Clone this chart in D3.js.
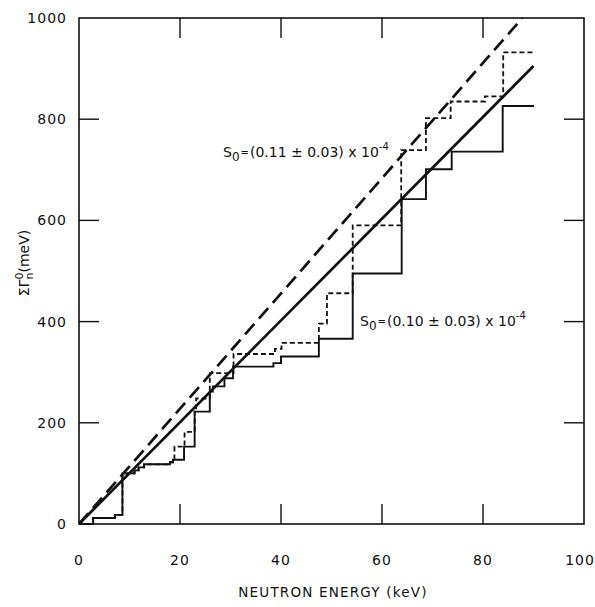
<!DOCTYPE html>
<html>
<head>
<meta charset="utf-8">
<script src="https://cdn.jsdelivr.net/npm/d3@7"></script>
<style>
  body { margin: 0; background: #fff; }
  svg { font-family: "DejaVu Sans", sans-serif; }
</style>
</head>
<body>
<svg class="chart"></svg>
<script>
// tick labels
var xTicks = [0, 20, 40, 60, 80, 100];
var yTicks = [0, 200, 400, 600, 800, 1000];

// solid staircase (S0 = 0.10)
var solidE = [0, 2.8, 7.1, 8.6, 11.0, 11.8, 12.9, 18.0, 18.6, 20.8, 22.9, 25.9, 26.5, 28.8, 30.5, 38.5, 40.0, 47.5, 54.2, 63.9, 68.7, 73.8, 83.9, 90.1];
var solidG = [0, 12, 18, 100, 106, 112, 118, 122, 127, 153, 222, 262, 272, 288, 311, 318, 331, 366, 495, 642, 701, 736, 826, 826];

// dashed staircase (S0 = 0.11)
var dashE = [0, 2.8, 7.1, 8.6, 11.0, 11.8, 12.9, 18.0, 18.6, 18.9, 20.9, 22.9, 23.2, 25.9, 30.6, 38.8, 40.1, 47.5, 49.1, 54.2, 63.8, 68.7, 73.6, 80.4, 84.0, 89.8];
var dashG = [0, 12, 18, 100, 106, 112, 118, 122, 127, 153, 182, 222, 248, 298, 336, 346, 358, 396, 456, 590, 739, 802, 835, 845, 932, 932];

// straight fits
var fitSolidE = [0, 90];
var fitSolidG = [0, 905];
var fitDashE = [0, 87.8];
var fitDashG = [0, 1000];

var width = 595, height = 607;
var margin = {top: 18, right: 11, bottom: 83, left: 79};

var svg = d3.select(".chart").attr("width", width).attr("height", height);

var x = d3.scaleLinear().domain([0, 100]).range([margin.left, width - margin.right]);
var y = d3.scaleLinear().domain([0, 1000]).range([height - margin.bottom, margin.top]);

var ink = "#111";

// frame
svg.append("rect")
  .attr("x", x(0)).attr("y", y(1000))
  .attr("width", x(100) - x(0)).attr("height", y(0) - y(1000))
  .attr("fill", "none").attr("stroke", ink).attr("stroke-width", 1.6);

// inward ticks on all four sides
var tl = 20;
var innerX = xTicks.filter(d => d > 0 && d < 100);
var innerY = yTicks.filter(d => d > 0 && d < 1000);

svg.append("g").selectAll("line").data(innerX).enter().append("line")
  .attr("x1", d => x(d)).attr("x2", d => x(d))
  .attr("y1", y(0)).attr("y2", y(0) - tl)
  .attr("stroke", ink).attr("stroke-width", 1.4);
svg.append("g").selectAll("line").data(innerX).enter().append("line")
  .attr("x1", d => x(d)).attr("x2", d => x(d))
  .attr("y1", y(1000)).attr("y2", y(1000) + tl)
  .attr("stroke", ink).attr("stroke-width", 1.4);
svg.append("g").selectAll("line").data(innerY).enter().append("line")
  .attr("x1", x(0)).attr("x2", x(0) + tl)
  .attr("y1", d => y(d)).attr("y2", d => y(d))
  .attr("stroke", ink).attr("stroke-width", 1.4);
svg.append("g").selectAll("line").data(innerY).enter().append("line")
  .attr("x1", x(100)).attr("x2", x(100) - tl)
  .attr("y1", d => y(d)).attr("y2", d => y(d))
  .attr("stroke", ink).attr("stroke-width", 1.4);

// tick labels
svg.append("g").selectAll("text").data(xTicks).enter().append("text")
  .attr("x", d => d === 100 ? x(d) - 4 : x(d)).attr("y", 565)
  .attr("text-anchor", "middle").attr("font-size", 14)
  .attr("letter-spacing", 1).attr("fill", ink)
  .text(d => d);
svg.append("g").selectAll("text").data(yTicks).enter().append("text")
  .attr("x", 67).attr("y", d => y(d) + 5)
  .attr("text-anchor", "end").attr("font-size", 14)
  .attr("letter-spacing", 1).attr("fill", ink)
  .text(d => d);

// axis titles
svg.append("text")
  .attr("x", 333).attr("y", 597)
  .attr("text-anchor", "middle").attr("font-size", 13.5)
  .attr("letter-spacing", 1.2).attr("fill", ink)
  .text("NEUTRON ENERGY (keV)");

var yt = svg.append("text")
  .attr("transform", "translate(29,263) rotate(-90)")
  .attr("text-anchor", "middle").attr("font-size", 14).attr("fill", ink);
yt.append("tspan").text("ΣΓ");
yt.append("tspan").attr("font-size", 11).attr("dy", -6).text("0");
yt.append("tspan").attr("font-size", 11).attr("dx", -7).attr("dy", 10).text("n");
yt.append("tspan").attr("dy", -4).text("(meV)");

// lines
var line = d3.line().x(d => x(d[0])).y(d => y(d[1]));
var step = d3.line().curve(d3.curveStepAfter).x(d => x(d[0])).y(d => y(d[1]));

svg.append("path")
  .datum(d3.zip(solidE, solidG))
  .attr("d", step).attr("fill", "none")
  .attr("stroke", ink).attr("stroke-width", 1.9);

svg.append("path")
  .datum(d3.zip(dashE, dashG))
  .attr("d", step).attr("fill", "none")
  .attr("stroke", ink).attr("stroke-width", 1.8)
  .attr("stroke-dasharray", "5,3");

svg.append("path")
  .datum(d3.zip(fitSolidE, fitSolidG))
  .attr("d", line).attr("fill", "none")
  .attr("stroke", ink).attr("stroke-width", 2.7);

svg.append("path")
  .datum(d3.zip(fitDashE, fitDashG))
  .attr("d", line).attr("fill", "none")
  .attr("stroke", ink).attr("stroke-width", 2.7)
  .attr("stroke-dasharray", "14,7");

// annotations
function s0Label(px, py, body) {
  var t = svg.append("text").attr("x", px).attr("y", py)
    .attr("font-size", 14).attr("fill", ink);
  t.append("tspan").text("S");
  t.append("tspan").attr("font-size", 12).attr("dy", 4).text("0");
  t.append("tspan").attr("font-size", 10).attr("dy", -5).attr("dx", 1).text("=");
  t.append("tspan").attr("dy", 1).attr("dx", 1).text(body);
  t.append("tspan").attr("font-size", 10).attr("dy", -7).text("-4");
}
s0Label(223, 157, "(0.11 ± 0.03) x 10");
s0Label(360, 326, "(0.10 ± 0.03) x 10");
</script>
</body>
</html>
